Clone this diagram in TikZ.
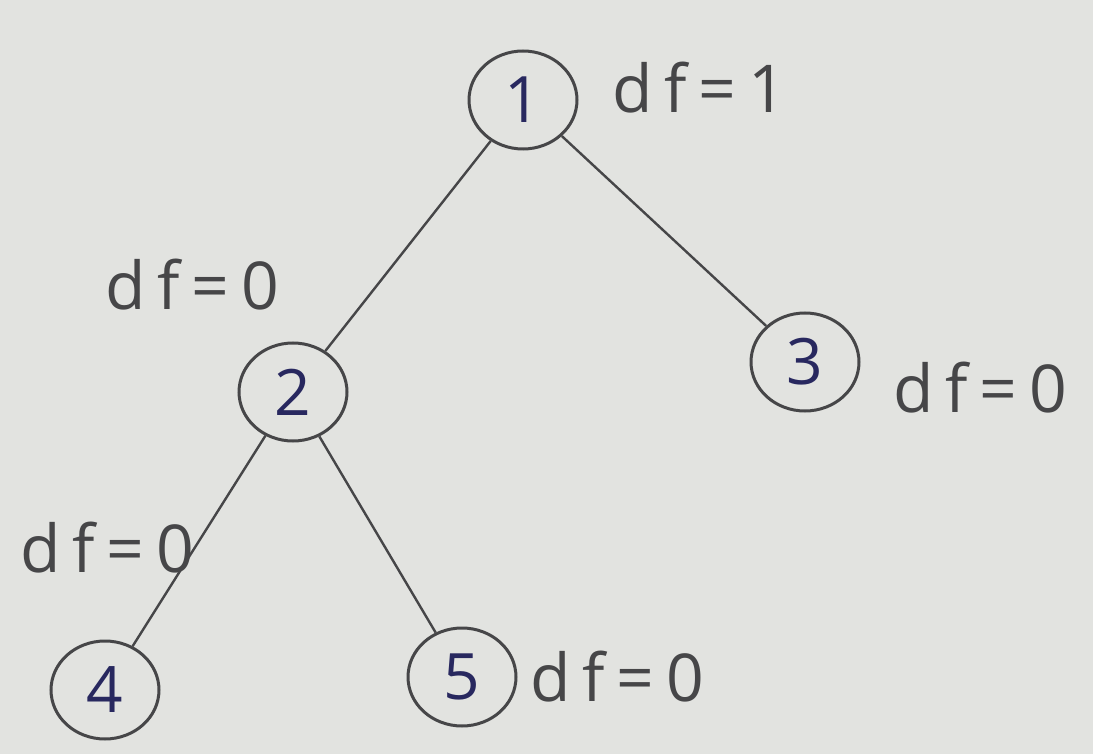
\documentclass[tikz,border=0pt]{standalone}
\usepackage{fontspec}
\setmainfont{Open Sans}
\newfontfamily\labfont[LetterSpace=18]{Open Sans}
\usetikzlibrary{shapes.geometric}
\definecolor{bg}{RGB}{226,227,224}
\definecolor{ink}{RGB}{70,70,72}
\definecolor{num}{RGB}{40,40,95}
\begin{document}
\begin{tikzpicture}[x=1pt,y=-1pt,
  vert/.style={draw=ink,line width=3pt,ellipse,minimum width=108pt,minimum height=98pt,inner sep=0pt,text=num,font=\fontsize{64}{66}\selectfont},
  lab/.style={text=ink,font=\labfont\fontsize{66}{68}\selectfont,inner sep=0pt,anchor=west},
  edge/.style={draw=ink,line width=2.4pt}]
\fill[bg] (0,0) rectangle (1093,754);
\useasboundingbox (0,0) rectangle (1093,754);
\node[vert] (n1) at (523,100) {1};
\node[vert] (n2) at (293,392) {2};
\node[vert] (n3) at (805,362) {3};
\node[vert] (n4) at (105,690) {4};
\node[vert] (n5) at (462,677) {5};
\draw[edge] (n1) -- (n2);
\draw[edge] (n1) -- (n3);
\draw[edge] (n2) -- (n4);
\draw[edge] (n2) -- (n5);
\node[lab] (l1) at (612,88) {df=1};
\node[lab] (l2) at (105,285) {df=0};
\node[lab] (l3) at (893,388) {df=0};
\node[lab] (l4) at (20,548) {df=0};
\node[lab] (l5) at (530,677) {df=0};
\end{tikzpicture}
\end{document}
